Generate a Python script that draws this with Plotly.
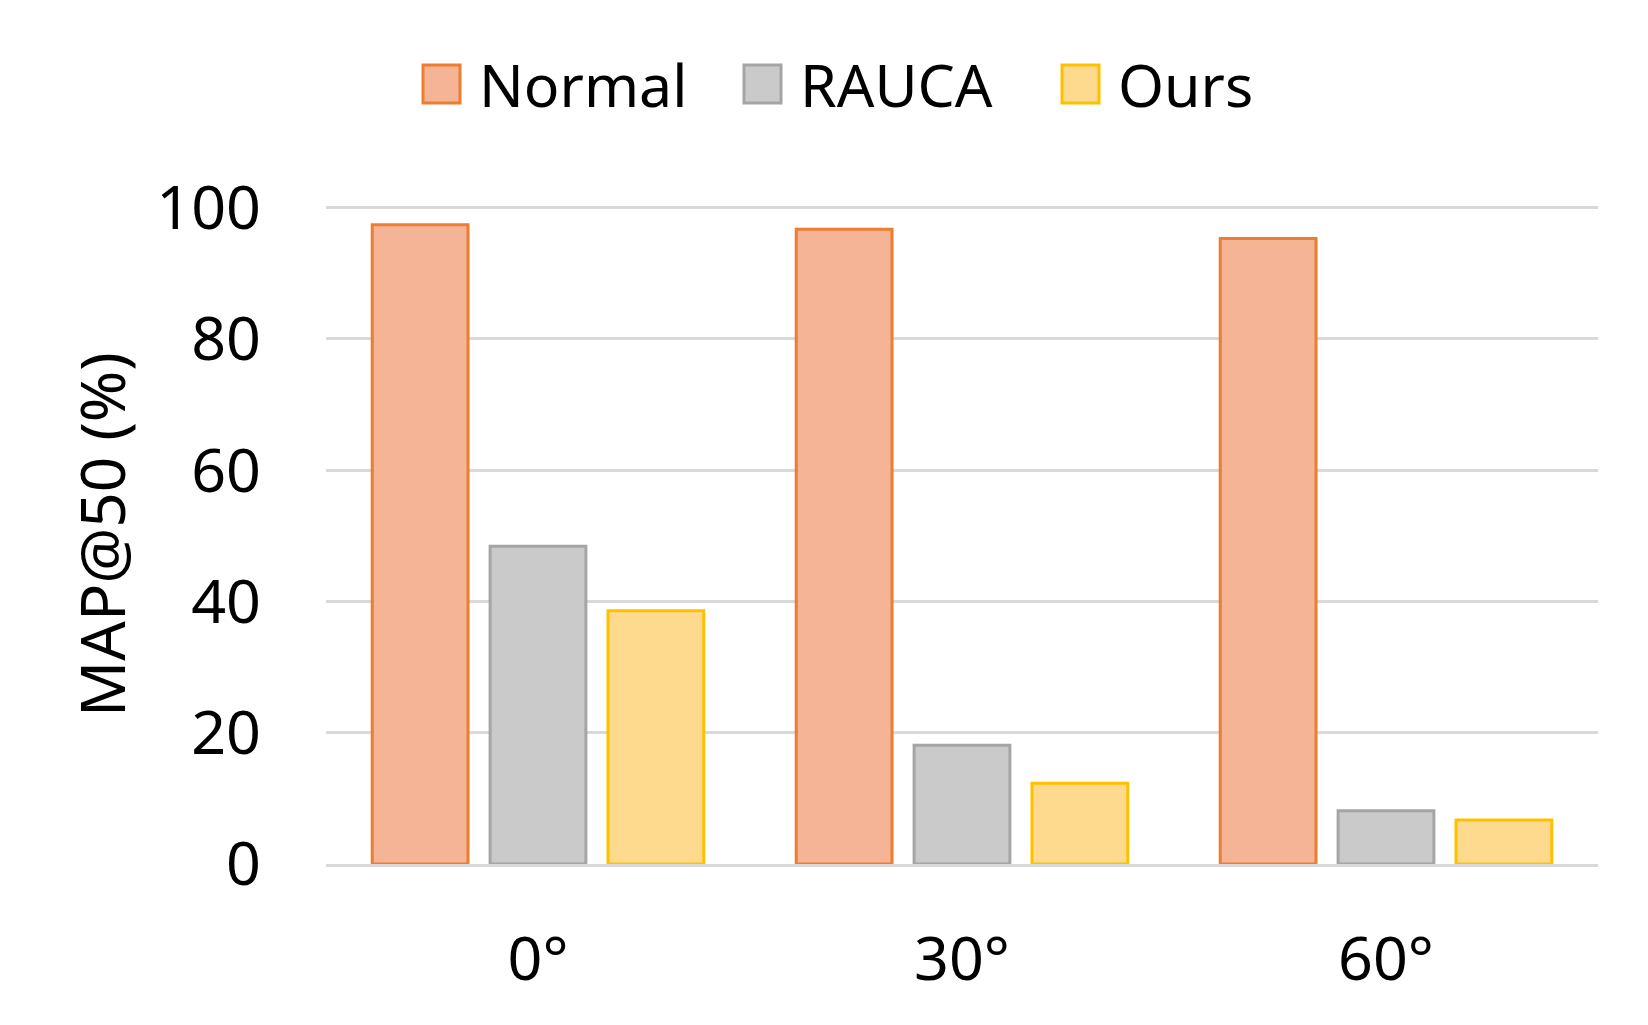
import plotly.graph_objects as go

categories = ["0°", "30°", "60°"]
series_names = ["Normal", "RAUCA", "Ours"]
normal_vals = [97.4, 96.7, 95.3]
rauca_vals = [48.4, 18.1, 8.1]
ours_vals = [38.6, 12.3, 6.7]
y_ticks = [0, 20, 40, 60, 80, 100]

fills = ["#F6B497", "#CACACA", "#FEDA8E"]
borders = ["#ED7D31", "#A5A5A5", "#FFC000"]
FONT = "Noto Sans"

# plot area in page pixels (page body has an 8px margin)
L, R, T, B = 318, 1590, 197, 856
PW, PH = R - L, B - T

fig = go.Figure()
for name, vals, fc, bc in zip(series_names, [normal_vals, rauca_vals, ours_vals], fills, borders):
    fig.add_trace(go.Bar(x=categories, y=vals, name=name,
                         marker=dict(color=fc, line=dict(color=bc, width=3)),
                         showlegend=False))

# custom legend (large swatches)
leg_x = [415, 736, 1054]
for nm, fc, bc, lx in zip(series_names, fills, borders, leg_x):
    fig.add_shape(type="rect", xref="paper", yref="paper",
                  x0=(lx - L) / PW, x1=(lx + 37 - L) / PW,
                  y0=(B - 95) / PH, y1=(B - 57) / PH,
                  fillcolor=fc, line=dict(color=bc, width=3))
    fig.add_annotation(text=nm, xref="paper", yref="paper",
                       x=(lx + 54 - L) / PW, y=(B - 76) / PH,
                       xanchor="left", yanchor="middle", showarrow=False,
                       font=dict(family=FONT, size=59, color="#000000"))

fig.update_layout(
    width=1648, height=1025,
    margin=dict(l=L, r=1648 - R, t=T, b=1025 - B),
    paper_bgcolor="white", plot_bgcolor="white",
    barmode="group", bargap=0.166, bargroupgap=0.1875,
    font=dict(family=FONT, size=61, color="#000000"),
)
fig.update_xaxes(showgrid=False, showline=True, linecolor="#D9D9D9", linewidth=3,
                 ticks="", ticklabelstandoff=40,
                 tickfont=dict(family=FONT, size=61, color="#000000"))
fig.update_yaxes(range=[0, 100.4], tickvals=y_ticks, showgrid=True, gridcolor="#D9D9D9",
                 gridwidth=2.5, zeroline=False, showline=False, ticks="",
                 ticklabelstandoff=64,
                 tickfont=dict(family=FONT, size=61, color="#000000"),
                 title=dict(text="MAP@50 (%)", standoff=10,
                            font=dict(family=FONT, size=62, color="#000000")))

fig.write_html("out.html")
